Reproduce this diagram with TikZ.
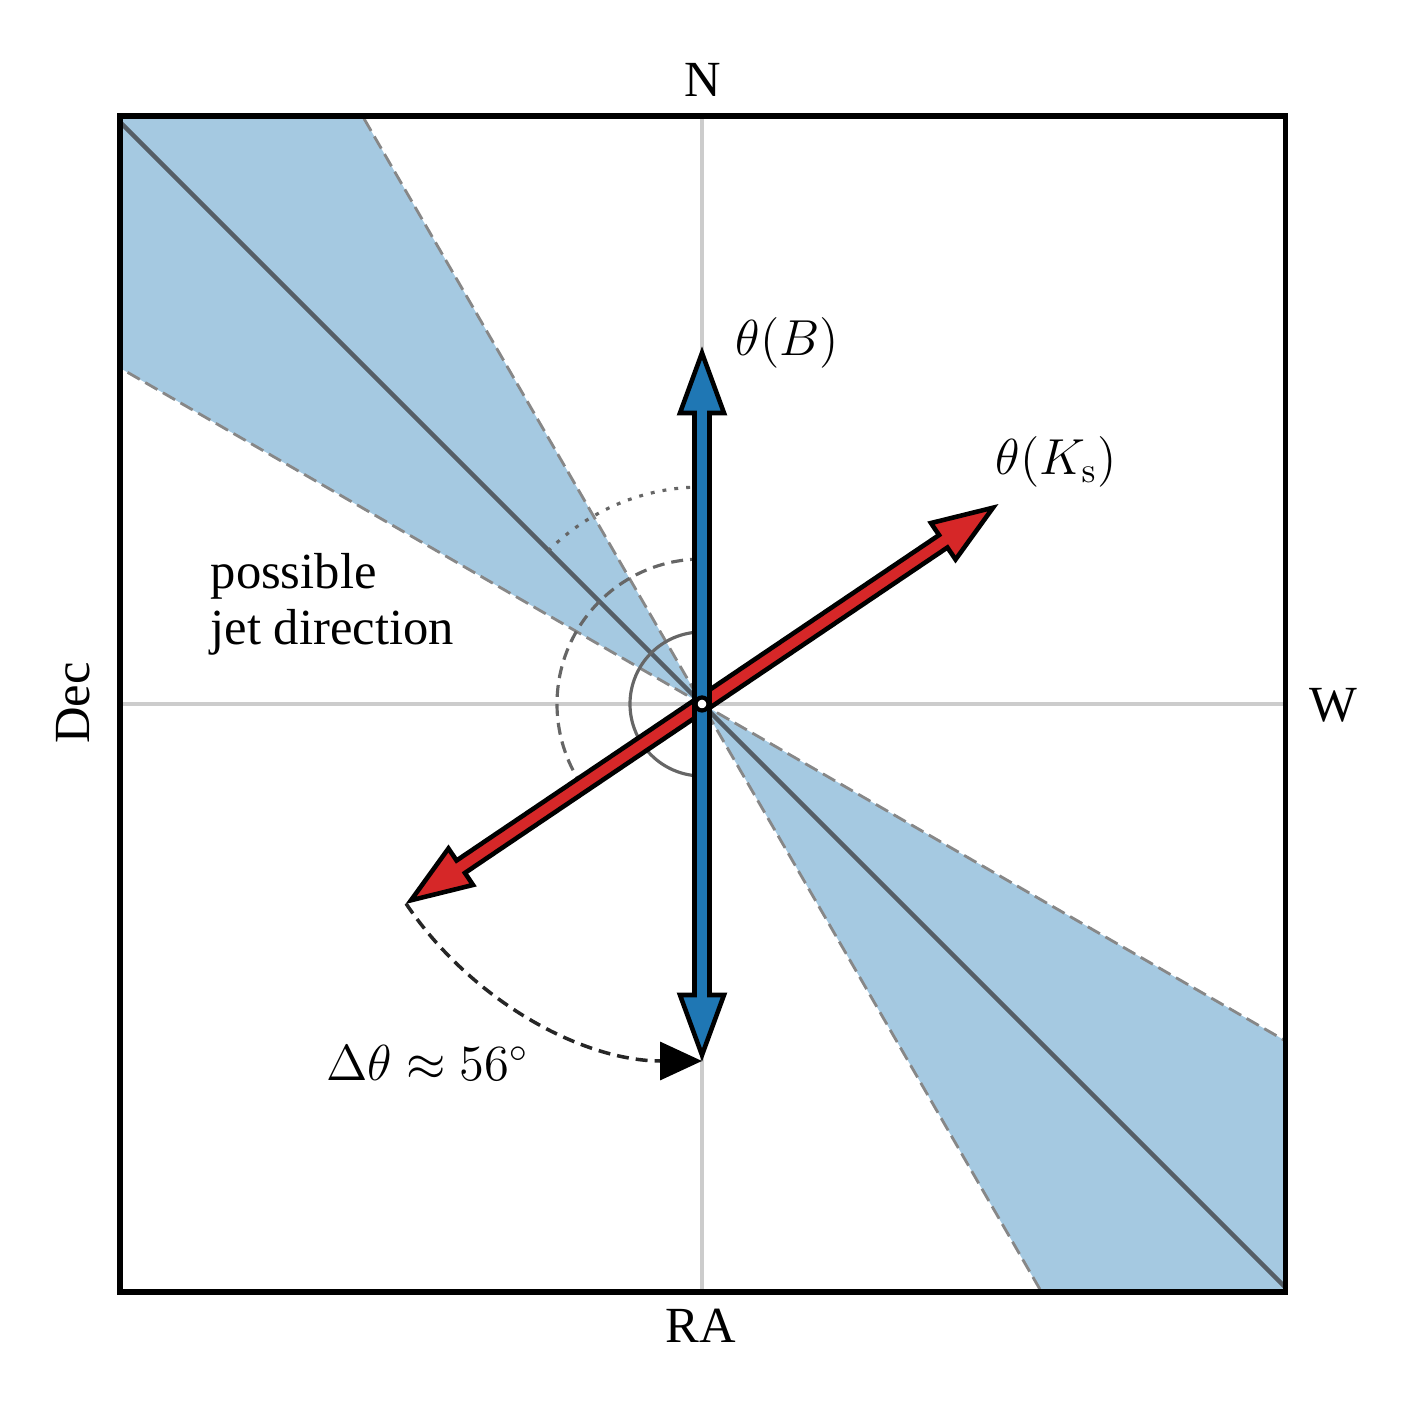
\documentclass[tikz,border=0pt]{standalone}
\usepackage[no-math]{fontspec}
\setmainfont{Liberation Serif}
\usepackage{tikz}
\usetikzlibrary{arrows.meta}
\definecolor{coneblue}{RGB}{165,201,225}
\definecolor{bfield}{RGB}{31,119,180}
\definecolor{kfield}{RGB}{214,39,40}
\definecolor{jetgray}{RGB}{85,94,102}
\tikzstyle{gridline}=[draw=black!20, line width=1.1pt]
\tikzstyle{coneedge}=[draw=black!47, line width=0.8pt, dash pattern=on 4pt off 1.8pt]
\tikzstyle{jetline}=[draw=jetgray, line width=1.3pt]
\tikzstyle{angarc}=[draw=black!60, line width=0.9pt]
\tikzstyle{txt}=[inner sep=0pt, font=\fontsize{14.4}{15.8}\selectfont]
% double headed fat arrow, rotated by #1, filled with #2
\newcommand{\fatarrow}[2]{%
  \begin{scope}[rotate=#1]
    \filldraw[fill=#2, draw=black, line width=1.3pt, miter limit=10]
      (-3.51,0) -- (-2.91,0.22) -- (-2.91,0.075) -- (2.91,0.075) -- (2.91,0.22)
      -- (3.51,0) -- (2.91,-0.22) -- (2.91,-0.075) -- (-2.91,-0.075)
      -- (-2.91,-0.22) -- cycle;
  \end{scope}}

\begin{document}
\begin{tikzpicture}
\useasboundingbox (-7.02,-7.08) rectangle (7.10,7.04);
\coordinate (O) at (0,0);
\coordinate (Btop) at (90:3.57);
\coordinate (Bbot) at (270:3.57);
\coordinate (Ktop) at (34:3.57);
\coordinate (Kbot) at (214:3.57);
% grid lines
\draw [gridline] (-5.82,0) -- (5.835,0);
\draw [gridline] (0,-5.88) -- (0,5.88);
% possible jet direction
\begin{scope}
\clip (-5.82,-5.88) rectangle (5.835,5.88);
\fill [coneblue] (O) -- (120:9) -- (150:9) -- cycle;
\fill [coneblue] (O) -- (300:9) -- (330:9) -- cycle;
\draw [coneedge] (120:9) -- (O) -- (150:9);
\draw [coneedge] (300:9) -- (O) -- (330:9);
\draw [jetline] (135:9) -- (315:9);
\end{scope}
% angles
\draw [angarc] (90:0.72) arc[start angle=90, end angle=270, radius=0.72];
\draw [angarc, dash pattern=on 3.4pt off 2pt] (90:1.45) arc[start angle=90, end angle=214, radius=1.45];
\draw [angarc, dash pattern=on 1.1pt off 2.3pt] (90:2.17) arc[start angle=90, end angle=135, radius=2.17];
% polarisation angles
\fatarrow{34}{kfield}
\fatarrow{90}{bfield}
\filldraw [fill=white, draw=black, line width=1.2pt] (O) circle (0.065);
% offset
\draw [black!85, line width=1pt, dash pattern=on 3.4pt off 2pt, -{Triangle[length=0.42cm,width=0.38cm,color=black]}]
  (Kbot) arc[start angle=214, end angle=270, radius=3.57];
% frame
\draw [line width=1.6pt] (-5.82,-5.88) rectangle (5.835,5.88);
% labels
\path (0.01,6.24) node [txt] (north) {N};
\path (-0.01,-6.22) node [txt] (ra) {RA};
\path (6.31,-0.01) node [txt] (west) {W};
\path (-6.29,0.01) node [txt, rotate=90] (dec) {Dec};
\path (0.33,3.61) node [txt, anchor=west] (labB) {$\theta(B)$};
\path (2.93,2.42) node [txt, anchor=west] (labK) {$\theta(K_\mathrm{s})$};
\path (-3.76,-3.59) node [txt, anchor=west] (labD) {$\Delta\theta\approx56^\circ$};
\path (-4.92,1.51) node [txt, anchor=north west, align=left] (labJ) {possible\\jet direction};
\end{tikzpicture}
\end{document}
